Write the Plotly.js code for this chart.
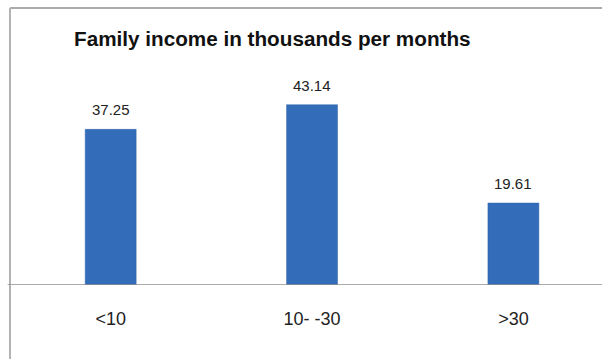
<!DOCTYPE html>
<html>
<head>
<meta charset="utf-8">
<script src="https://cdn.plot.ly/plotly-3.0.1.min.js"></script>
<style>html,body{margin:0;padding:0;background:#fff;}#chart{width:602px;height:359px;}</style>
</head>
<body>
<div id="chart"></div>
<script>
const categories = ["<10", "10- -30", ">30"];
const values = [37.25, 43.14, 19.61];
const valueLabels = ["37.25", "43.14", "19.61"];
const chartTitle = "Family income in thousands per months";

const trace = {
  type: "bar",
  x: categories,
  y: values,
  marker: { color: "#336cb9", line: { color: "#2f63aa", width: 0.5 } },
  hoverinfo: "none"
};

const annotations = categories.map((c, i) => ({
  x: c, y: values[i], xref: "x", yref: "y",
  text: valueLabels[i], showarrow: false,
  yanchor: "bottom", yshift: 9,
  font: { family: "Liberation Sans, Arial, sans-serif", size: 15, color: "#222" }
}));

const layout = {
  width: 602, height: 359,
  margin: { l: 10, r: 0, t: 8, b: 74 },
  paper_bgcolor: "#fff", plot_bgcolor: "#fff",
  showlegend: false,
  bargap: 0.747,
  title: {
    text: "<b>" + chartTitle + "</b>",
    xref: "container", yref: "container",
    x: 74 / 602, xanchor: "left",
    y: 1 - 39 / 359, yanchor: "middle",
    font: { family: "Liberation Sans, Arial, sans-serif", size: 20.7, color: "#111" }
  },
  xaxis: {
    type: "category", range: [-0.5, 2.44],
    showgrid: false, zeroline: false, showline: false,
    ticks: "", ticklabelstandoff: 21,
    tickfont: { family: "Liberation Sans, Arial, sans-serif", size: 18, color: "#222" },
    fixedrange: true
  },
  yaxis: {
    range: [0, 66.3], visible: false, fixedrange: true
  },
  shapes: [
    { type: "line", xref: "paper", yref: "paper", x0: 0, x1: 1.01, y0: 1, y1: 1,
      line: { color: "#ababab", width: 2 } },
    { type: "line", xref: "paper", yref: "paper", x0: 0, x1: 0, y0: 1, y1: -0.3,
      line: { color: "#b3b3b3", width: 2 } },
    { type: "line", xref: "paper", yref: "y", x0: -0.004, x1: 1.01, y0: 0, y1: 0,
      line: { color: "#8f8f8f", width: 1.5 } }
  ],
  annotations: annotations
};

Plotly.newPlot("chart", [trace], layout, { displayModeBar: false, staticPlot: true });
</script>
</body>
</html>
